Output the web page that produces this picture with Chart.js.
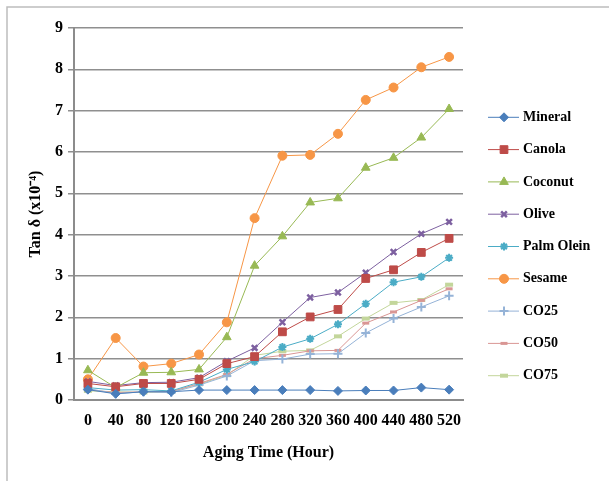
<!DOCTYPE html>
<html>
<head>
<meta charset="utf-8">
<style>
  html, body { margin: 0; padding: 0; background: #ffffff; }
  #wrap { width: 609px; height: 481px; position: relative; }
</style>
<script src="https://cdn.jsdelivr.net/npm/chart.js@4/dist/chart.umd.min.js"></script>
</head>
<body>
<div id="wrap"><canvas id="c" width="609" height="481"></canvas></div>
<script>
const categories = ['0','40','80','120','160','200','240','280','320','360','400','440','480','520'];
const seriesNames = ['Mineral','Canola','Coconut','Olive','Palm Olein','Sesame','CO25','CO50','CO75'];
const mineral   = [0.25, 0.15, 0.20, 0.20, 0.24, 0.24, 0.24, 0.24, 0.24, 0.22, 0.23, 0.23, 0.30, 0.25];
const canola    = [0.40, 0.32, 0.40, 0.40, 0.50, 0.88, 1.05, 1.65, 2.01, 2.19, 2.94, 3.15, 3.57, 3.91];
const coconut   = [0.72, 0.30, 0.66, 0.67, 0.74, 1.52, 3.25, 3.96, 4.78, 4.88, 5.62, 5.86, 6.35, 7.04];
const olive     = [0.45, 0.35, 0.42, 0.43, 0.54, 0.94, 1.26, 1.88, 2.48, 2.60, 3.08, 3.58, 4.02, 4.31];
const palmOlein = [0.30, 0.24, 0.25, 0.22, 0.43, 0.74, 0.93, 1.28, 1.48, 1.83, 2.33, 2.85, 2.98, 3.44];
const sesame    = [0.50, 1.50, 0.81, 0.88, 1.10, 1.88, 4.40, 5.91, 5.93, 6.44, 7.26, 7.56, 8.05, 8.30];
const co25      = [0.28, 0.15, 0.20, 0.18, 0.36, 0.58, 0.95, 0.99, 1.11, 1.12, 1.62, 1.97, 2.25, 2.52];
const co50      = [0.25, 0.18, 0.20, 0.20, 0.40, 0.62, 1.00, 1.08, 1.19, 1.20, 1.86, 2.13, 2.41, 2.69];
const co75      = [0.22, 0.20, 0.18, 0.20, 0.38, 0.60, 1.08, 1.18, 1.20, 1.54, 1.97, 2.35, 2.42, 2.79];
const xTitle = 'Aging Time (Hour)';
const yTitle = 'Tan \u03B4 (x10\u207B\u2074)';
const yMin = 0, yMax = 9, yStep = 1;

const values = [mineral, canola, coconut, olive, palmOlein, sesame, co25, co50, co75];
const colors = ['#4A7EBB','#BE4B48','#98B954','#7D60A0','#4BACC6','#F79646','#95B3D7','#D99694','#C3D69B'];
const styles = [
  {ps:'rectRot', r:4.5, bw:1},
  {ps:'rect', r:5.5, bw:1},
  {ps:'triangle', r:5, bw:1},
  {ps:'crossRot', r:4, bw:2.5},
  {ps:'star', r:4, bw:2},
  {ps:'circle', r:4.5, bw:1},
  {ps:'cross', r:4.5, bw:2},
  {ps:'line', r:3.5, bw:3},
  {ps:'line', r:4, bw:4}
];

const FONT = "'Liberation Serif', 'Times New Roman', serif";

const datasets = seriesNames.map((n, i) => ({
  label: n,
  data: values[i],
  borderColor: colors[i],
  backgroundColor: colors[i],
  borderWidth: 1,
  pointStyle: styles[i].ps,
  pointRadius: styles[i].r,
  pointBorderWidth: styles[i].bw,
  pointBackgroundColor: colors[i],
  pointBorderColor: colors[i],
  tension: 0,
  fill: false
}));

const frame = {
  id: 'frame',
  beforeDraw(chart) {
    const ctx = chart.ctx;
    ctx.save();
    ctx.strokeStyle = '#bdbdbd';
    ctx.lineWidth = 1.5;
    ctx.beginPath();
    ctx.moveTo(7, 481);
    ctx.lineTo(7, 7);
    ctx.lineTo(609, 7);
    ctx.stroke();
    ctx.restore();
  }
};

const customLegend = {
  id: 'customLegend',
  afterDraw(chart) {
    const ctx = chart.ctx;
    const x0 = 488, x1 = 519, mx = 504, tx = 523;
    const y0 = 117.3, dy = 32.3;
    ctx.save();
    chart.data.datasets.forEach((ds, i) => {
      const y = y0 + i * dy;
      ctx.strokeStyle = ds.borderColor;
      ctx.lineWidth = 1;
      ctx.beginPath();
      ctx.moveTo(x0, y);
      ctx.lineTo(x1, y);
      ctx.stroke();
      ctx.fillStyle = ds.pointBackgroundColor;
      ctx.strokeStyle = ds.pointBorderColor;
      ctx.lineWidth = ds.pointBorderWidth;
      Chart.helpers.drawPoint(ctx, {pointStyle: ds.pointStyle, radius: ds.pointRadius, borderWidth: ds.pointBorderWidth, rotation: 0}, mx, y);
      ctx.fillStyle = '#000';
      ctx.font = "bold 14px " + FONT;
      ctx.textAlign = 'left';
      ctx.textBaseline = 'middle';
      ctx.fillText(ds.label, tx, y);
    });
    ctx.restore();
  }
};

new Chart(document.getElementById('c'), {
  type: 'line',
  data: { labels: categories, datasets },
  options: {
    responsive: false,
    animation: false,
    layout: { padding: { left: 0, top: 28, right: 146, bottom: 0 } },
    plugins: { legend: { display: false }, tooltip: { enabled: false } },
    scales: {
      x: {
        type: 'category',
        offset: true,
        grid: { display: false, drawTicks: false },
        border: { display: true, color: '#8c8c8c', width: 2 },
        ticks: { color: '#000', font: { family: FONT, size: 16, weight: 'bold' }, padding: 11, maxRotation: 0, autoSkip: false },
        title: { display: true, text: xTitle, color: '#000', font: { family: FONT, size: 16, weight: 'bold' }, padding: { top: 0, bottom: 19 } },
        afterFit(s) { s.height = 81; }
      },
      y: {
        min: yMin, max: yMax,
        ticks: { stepSize: yStep, color: '#000', font: { family: FONT, size: 16, weight: 'bold' }, padding: 5 },
        grid: { color: '#8f8f8f', lineWidth: 1.5, drawTicks: true, tickLength: 6 },
        border: { display: true, color: '#8c8c8c', width: 2 },
        title: { display: true, text: yTitle, color: '#000', font: { family: FONT, size: 16, weight: 'bold' }, padding: { top: 26, bottom: 0 } },
        afterFit(s) { s.width = 74; }
      }
    }
  },
  plugins: [frame, customLegend]
});
</script>
</body>
</html>
